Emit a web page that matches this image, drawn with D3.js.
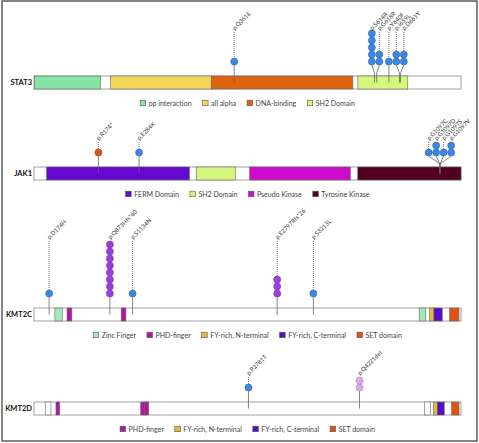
<!DOCTYPE html>
<html><head><meta charset="utf-8">
<script src="https://cdn.jsdelivr.net/npm/d3@7"></script>
<style>body{margin:0;background:#fff}svg{display:block}text{font-family:Lato,"Noto Sans",sans-serif}</style>
</head><body><script>
// ---------- DATA ----------
const genes = ["STAT3", "JAK1", "KMT2C", "KMT2D"];
const proteinLengths = [770, 1154, 4911, 5537];

const stat3Domains = [
  {name: "pp interaction", start: 1, end: 120},
  {name: "all alpha", start: 138, end: 320},
  {name: "DNA-binding", start: 320, end: 575},
  {name: "SH2 Domain", start: 584, end: 674}
];
const jak1Domains = [
  {name: "FERM Domain", start: 34, end: 420},
  {name: "SH2 Domain", start: 439, end: 544},
  {name: "Pseudo Kinase", start: 583, end: 855},
  {name: "Tyrosine Kinase", start: 875, end: 1154}
];
const kmt2cDomains = [
  {name: "Zinc Finger", start: 240, end: 325},
  {name: "PHD-finger", start: 380, end: 435},
  {name: "PHD-finger", start: 1003, end: 1057},
  {name: "Zinc Finger", start: 4430, end: 4506},
  {name: "FY-rich, N-terminal", start: 4550, end: 4600},
  {name: "FY-rich, C-terminal", start: 4600, end: 4695},
  {name: "SET domain", start: 4780, end: 4888}
];
const kmt2dDomains = [
  {name: "other", start: 146, end: 220},
  {name: "PHD-finger", start: 285, end: 333},
  {name: "PHD-finger", start: 1384, end: 1430},
  {name: "PHD-finger", start: 1430, end: 1487},
  {name: "other", start: 5061, end: 5144},
  {name: "FY-rich, N-terminal", start: 5178, end: 5230},
  {name: "FY-rich, C-terminal", start: 5230, end: 5320},
  {name: "SET domain", start: 5416, end: 5511}
];

const stat3Mutations = [
  {label: "p.Q361E", pos: 361, count: 1, type: "missense"},
  {label: "p.S614R", pos: 614, count: 5, type: "missense"},
  {label: "p.G618R", pos: 618, count: 2, type: "missense"},
  {label: "p.Y640F", pos: 640, count: 1, type: "missense"},
  {label: "p.I659L", pos: 659, count: 2, type: "missense"},
  {label: "p.D661Y", pos: 661, count: 2, type: "missense"}
];
const jak1Mutations = [
  {label: "p.R174*", pos: 174, count: 1, type: "nonsense"},
  {label: "p.E284K", pos: 284, count: 1, type: "missense"},
  {label: "p.G1097C", pos: 1097, count: 1, type: "missense"},
  {label: "p.G1097D", pos: 1097, count: 2, type: "missense"},
  {label: "p.G1097S", pos: 1097, count: 1, type: "missense"},
  {label: "p.G1097V", pos: 1097, count: 2, type: "missense"}
];
const kmt2cMutations = [
  {label: "p.D174H", pos: 174, count: 1, type: "missense"},
  {label: "p.Q873Hfs*40", pos: 873, count: 8, type: "frameshift"},
  {label: "p.S1134N", pos: 1134, count: 1, type: "missense"},
  {label: "p.E2797Rfs*26", pos: 2797, count: 3, type: "frameshift"},
  {label: "p.S3213L", pos: 3213, count: 1, type: "missense"}
];
const kmt2dMutations = [
  {label: "p.P2781T", pos: 2781, count: 1, type: "missense"},
  {label: "p.Q4221del", pos: 4221, count: 2, type: "inframe"}
];

const stat3Legend = ["pp interaction", "all alpha", "DNA-binding", "SH2 Domain"];
const jak1Legend = ["FERM Domain", "SH2 Domain", "Pseudo Kinase", "Tyrosine Kinase"];
const kmt2cLegend = ["Zinc Finger", "PHD-finger", "FY-rich, N-terminal", "FY-rich, C-terminal", "SET domain"];
const kmt2dLegend = ["PHD-finger", "FY-rich, N-terminal", "FY-rich, C-terminal", "SET domain"];

const domainsByGene = [stat3Domains, jak1Domains, kmt2cDomains, kmt2dDomains];
const mutationsByGene = [stat3Mutations, jak1Mutations, kmt2cMutations, kmt2dMutations];
const legendsByGene = [stat3Legend, jak1Legend, kmt2cLegend, kmt2dLegend];

// ---------- STYLE ----------
const domainColor = {
  "pp interaction": "#83e4a4",
  "all alpha": "#f4d65c",
  "DNA-binding": "#df640f",
  "SH2 Domain": "#d5f77e",
  "FERM Domain": "#6608cf",
  "Pseudo Kinase": "#cc0bcb",
  "Tyrosine Kinase": "#520022",
  "Zinc Finger": "#a2eabd",
  "PHD-finger": "#b2169f",
  "FY-rich, N-terminal": "#ebb93a",
  "FY-rich, C-terminal": "#5a0bc9",
  "SET domain": "#e0540f",
  "other": "#ffffff"
};
const mutColor = {missense: "#3d86e3", nonsense: "#d9541a", frameshift: "#9a3ee0", inframe: "#dcaaee"};

const W = 479, H = 443;
const barX0 = 34, barX1 = 461, barH = 13;
const barTops = [76, 167, 308, 402];
const labelYs = [29, 139, 238, 374];
const R = 3.5, STEP = 7, SPREAD = 7.5;

const svg = d3.select("body").append("svg").attr("width", W).attr("height", H);

svg.append("rect").attr("x", 2).attr("y", 1).attr("width", 475).attr("height", 440)
  .attr("fill", "none").attr("stroke", "#444").attr("stroke-width", 1.3);

function spread(xs) {
  // group overlapping positions and spread them evenly around their mean
  let groups = xs.map((x, i) => ({idx: [i], orig: [x]}));
  const place = g => {
    const m = d3.mean(g.orig), n = g.idx.length;
    g.pos = g.idx.map((_, k) => m + (k - (n - 1) / 2) * SPREAD);
  };
  groups.forEach(place);
  let merged = true;
  while (merged) {
    merged = false;
    for (let i = 0; i < groups.length - 1; i++) {
      const a = groups[i], b = groups[i + 1];
      if (b.pos[0] - a.pos[a.pos.length - 1] < SPREAD - 0.01) {
        const g = {idx: a.idx.concat(b.idx), orig: a.orig.concat(b.orig)};
        place(g);
        groups.splice(i, 2, g);
        merged = true;
        break;
      }
    }
  }
  const out = new Array(xs.length);
  groups.forEach(g => g.idx.forEach((id, k) => out[id] = g.pos[k]));
  return out;
}

genes.forEach((gene, gi) => {
  const x = d3.scaleLinear().domain([0, proteinLengths[gi]]).range([barX0, barX1]);
  const top = barTops[gi];
  const g = svg.append("g");
  const midY = top + barH / 2;

  g.append("text").attr("x", 32).attr("y", midY + 2.6).attr("text-anchor", "end")
    .attr("font-size", 7.5).attr("font-weight", "bold").attr("fill", "#111").text(gene);

  g.append("rect").attr("x", x(0)).attr("y", top).attr("width", x(proteinLengths[gi]) - x(0))
    .attr("height", barH).attr("fill", "#fff").attr("stroke", "#888").attr("stroke-width", 0.8);

  g.selectAll("rect.dom").data(domainsByGene[gi]).join("rect").attr("class", "dom")
    .attr("x", d => x(d.start)).attr("y", top).attr("width", d => x(d.end) - x(d.start))
    .attr("height", barH).attr("fill", d => domainColor[d.name])
    .attr("stroke", "#666").attr("stroke-width", 0.6);

  // mutations
  const muts = mutationsByGene[gi].slice().sort((a, b) => a.pos - b.pos);
  const actual = muts.map(m => x(m.pos));
  const shown = spread(actual);
  const baseY = top - 14.5;
  const labelY = labelYs[gi];

  muts.forEach((m, i) => {
    const ax = actual[i], dx = shown[i];
    const stemTop = baseY + R;
    if (Math.abs(ax - dx) > 0.3) {
      g.append("path").attr("d", `M${dx},${stemTop}L${ax},${stemTop + 8}L${ax},${midY}`)
        .attr("fill", "none").attr("stroke", "#666").attr("stroke-width", 0.8);
    } else {
      g.append("line").attr("x1", ax).attr("x2", ax).attr("y1", stemTop).attr("y2", midY)
        .attr("stroke", "#666").attr("stroke-width", 0.8);
    }
    const topCy = baseY - (m.count - 1) * STEP;
    if (topCy - R > labelY + 3) {
      g.append("line").attr("x1", dx).attr("x2", dx).attr("y1", labelY + 3).attr("y2", topCy - R)
        .attr("stroke", "#555").attr("stroke-width", 0.8).attr("stroke-dasharray", "1,1");
    }
    d3.range(m.count).forEach(k => {
      const c = d3.color(mutColor[m.type]);
      g.append("circle").attr("cx", dx).attr("cy", baseY - k * STEP).attr("r", R)
        .attr("fill", mutColor[m.type]).attr("stroke", c.darker(0.8)).attr("stroke-width", 0.6);
    });
    g.append("text").attr("transform", `translate(${dx - 1},${labelY}) rotate(-45)`)
      .attr("dy", "0.35em").attr("font-size", 6).attr("fill", "#333").text(m.label);
  });

  // legend
  const lg = g.append("g");
  let cx = 0;
  const ly = top + barH + 14;
  legendsByGene[gi].forEach(name => {
    lg.append("rect").attr("x", cx).attr("y", ly - 2.8).attr("width", 5.5).attr("height", 5.5)
      .attr("fill", domainColor[name]).attr("stroke", "#555").attr("stroke-width", 0.6);
    const t = lg.append("text").attr("x", cx + 8.5).attr("y", ly + 2.5).attr("font-size", 7)
      .attr("fill", "#444").text(name);
    cx += 8.5 + t.node().getComputedTextLength() + 11;
  });
  const total = cx - 11;
  lg.attr("transform", `translate(${(barX0 + barX1) / 2 - total / 2},0)`);
});
</script></body></html>
